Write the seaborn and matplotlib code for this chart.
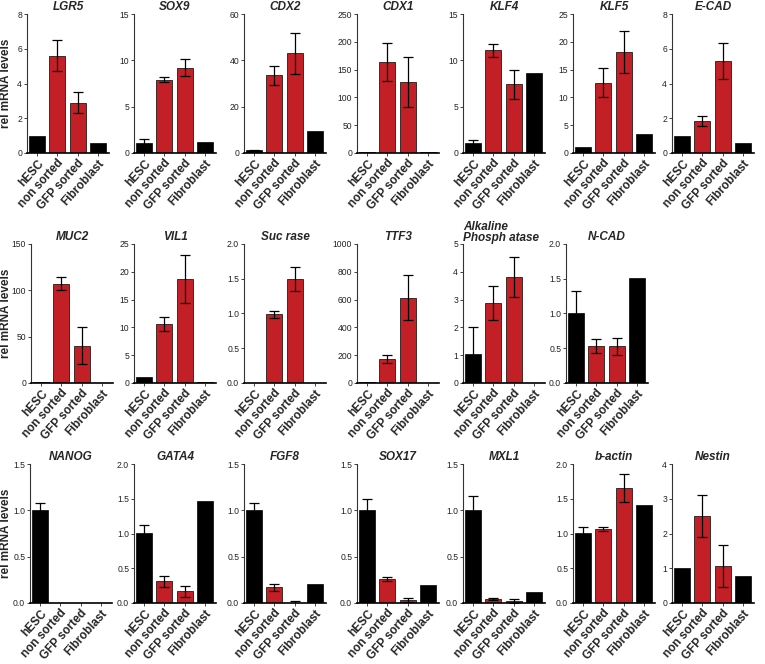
import numpy as np
import pandas as pd
import matplotlib
matplotlib.use("Agg")
import matplotlib.pyplot as plt
import seaborn as sns

groups = ["hESC", "non sorted", "GFP sorted", "Fibroblast"]

genes = ["LGR5", "SOX9", "CDX2", "CDX1", "KLF4", "KLF5", "E-CAD",
         "MUC2", "VIL1", "Suc rase", "TTF3", "Alkaline\nPhosph atase", "N-CAD",
         "NANOG", "GATA4", "FGF8", "SOX17", "MXL1", "b-actin", "Nestin"]

means = [
    [1.0, 5.6, 2.9, 0.55],
    [1.1, 7.9, 9.2, 1.2],
    [1.2, 33.5, 43.0, 9.5],
    [2.0, 163, 128, 2.0],
    [1.05, 11.1, 7.4, 8.6],
    [1.1, 12.6, 18.2, 3.4],
    [1.0, 1.85, 5.3, 0.6],
    [1.2, 107, 40, 0.0],
    [1.15, 10.6, 18.7, 0.1],
    [0.0, 0.99, 1.5, 0.0],
    [4, 175, 615, 0.0],
    [1.03, 2.88, 3.8, 0.0],
    [1.0, 0.53, 0.53, 1.51],
    [1.0, 0.0, 0.0, 0.0],
    [1.01, 0.31, 0.17, 1.47],
    [1.0, 0.17, 0.005, 0.21],
    [1.0, 0.26, 0.03, 0.19],
    [1.0, 0.04, 0.02, 0.12],
    [1.01, 1.07, 1.65, 1.41],
    [1.02, 2.5, 1.07, 0.78],
]

errors = [
    [0, 0.9, 0.62, 0],
    [0.4, 0.25, 0.9, 0],
    [0.3, 4.0, 8.7, 0],
    [0, 34, 45, 0],
    [0.3, 0.7, 1.6, 0],
    [0, 2.6, 3.8, 0],
    [0, 0.3, 1.05, 0],
    [0, 7, 20, 0],
    [0, 1.3, 4.4, 0],
    [0, 0.05, 0.17, 0],
    [0, 30, 165, 0],
    [0.97, 0.62, 0.72, 0],
    [0.33, 0.1, 0.12, 0],
    [0.08, 0, 0, 0],
    [0.11, 0.08, 0.08, 0],
    [0.08, 0.04, 0.015, 0],
    [0.12, 0.02, 0.02, 0],
    [0.15, 0.01, 0.02, 0],
    [0.09, 0.03, 0.2, 0],
    [0, 0.6, 0.6, 0],
]

y_max = [8, 15, 60, 250, 15, 25, 8,
         150, 25, 2.0, 1000, 5, 2.0,
         1.5, 2.0, 1.5, 1.5, 1.5, 2.0, 4]
y_step = [2, 5, 20, 50, 5, 5, 2,
          50, 5, 0.5, 200, 1, 0.5,
          0.5, 0.5, 0.5, 0.5, 0.5, 0.5, 1]

# sorted cells are red, controls black
is_red = [0, 1, 1, 0]

RED = "#c21f26"
BLACK = "#000000"

sns.set_style("white")
plt.rcParams["font.family"] = ["Liberation Sans", "DejaVu Sans"]

fig = plt.figure(figsize=(7.65, 6.64), dpi=100)

W, H = 765, 664
col_left = [[27, 134, 244, 357, 463, 573, 672],
            [31, 134, 244, 357, 463, 566],
            [30, 134, 244, 357, 463, 573, 672]]
ax_w = 82
row_top = [14, 244, 464]
ax_h = 139

positions = []
for r in range(3):
    for c in range(len(col_left[r])):
        positions.append((r, c))

pal = [RED if m else BLACK for m in is_red]
edges = ["#d85a5a" if m else BLACK for m in is_red]

for i, gene in enumerate(genes):
    r, c = positions[i]
    left = col_left[r][c]
    ax = fig.add_axes([left / W, 1 - (row_top[r] + ax_h) / H, ax_w / W, ax_h / H])
    df = pd.DataFrame({"group": groups, "value": means[i]})
    sns.barplot(data=df, x="group", y="value", hue="group", palette=pal,
                saturation=1, legend=False, ax=ax, width=0.8, errorbar=None,
                edgecolor=edges, linewidth=0.5)
    err = np.array(errors[i])
    x = np.arange(4)
    keep = err > 0
    ax.errorbar(x[keep], np.array(means[i])[keep], yerr=err[keep], fmt="none",
                ecolor="black", elinewidth=0.9, capsize=3.5, capthick=0.9, zorder=5)
    ax.set_xlim(-0.5, 3.55)
    ax.set_ylim(0, y_max[i])
    ticks = np.arange(0, y_max[i] + y_step[i] / 2, y_step[i])
    ax.set_yticks(ticks)
    if y_step[i] < 1:
        ax.set_yticklabels([f"{t:.1f}" for t in ticks])
    else:
        ax.set_yticklabels([f"{int(t)}" for t in ticks])
    sns.despine(ax=ax)
    ax.spines["left"].set_color("#333333")
    ax.spines["left"].set_linewidth(0.8)
    ax.spines["bottom"].set_color("black")
    ax.spines["bottom"].set_linewidth(1.2)
    ax.tick_params(axis="y", labelsize=6.2, length=2.5, width=0.6, pad=1,
                   colors="#222222", left=True)
    ax.tick_params(axis="x", length=2, width=0.6, pad=1, bottom=True)
    ax.set_xticks(x)
    ax.set_xticklabels(groups, rotation=48, ha="right", rotation_mode="anchor",
                       fontsize=8.5, fontweight="bold")
    ax.set_xlabel("")
    ax.set_ylabel("")
    two_line = "\n" in gene
    ax.set_title(gene, fontsize=8.5, fontweight="bold", fontstyle="italic",
                 pad=2 if two_line else 3, loc="left" if two_line else "center",
                 linespacing=0.95)
    if c == 0:
        fig.text(6 / W, 1 - (row_top[r] + ax_h / 2) / H, "rel mRNA levels",
                 rotation=90, ha="center", va="center", fontsize=8.5, fontweight="bold")

fig.savefig("out.png", dpi=100)
